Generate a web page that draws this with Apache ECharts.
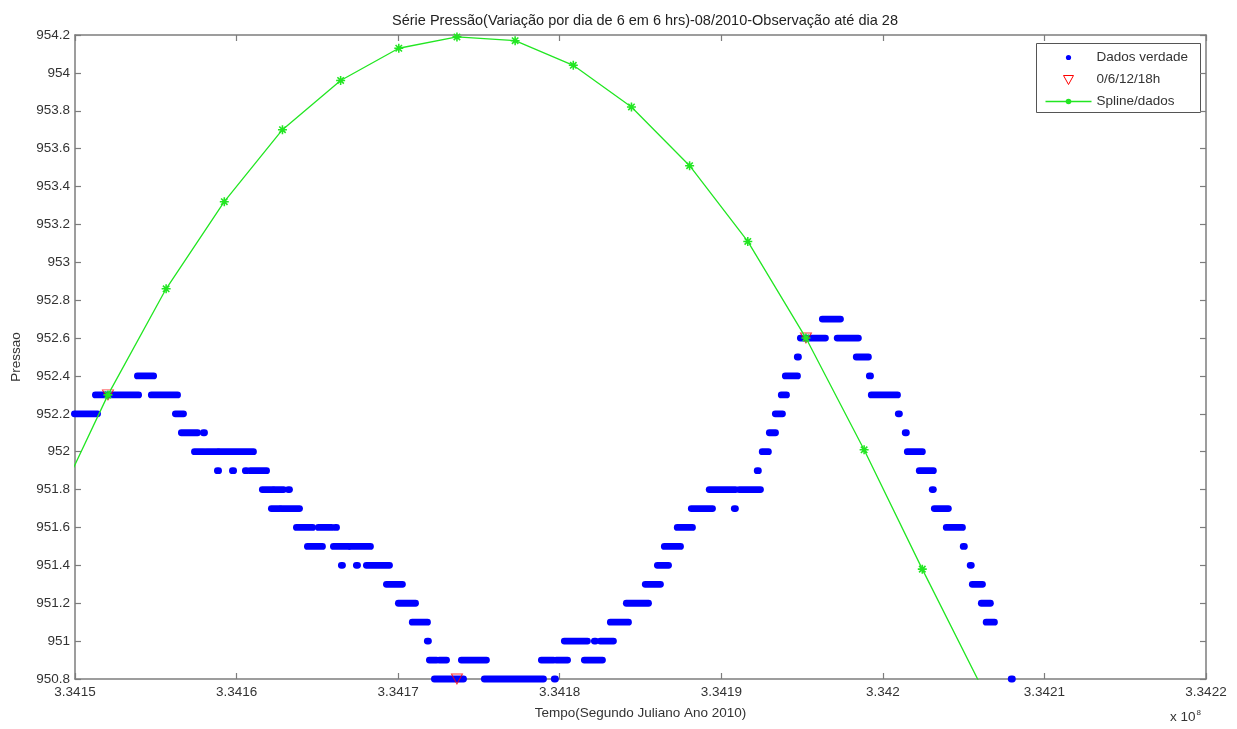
<!DOCTYPE html>
<html>
<head>
<meta charset="utf-8">
<title>Série Pressão</title>
<script src="https://cdn.jsdelivr.net/npm/echarts@6/dist/echarts.min.js"></script>
<style>
  html, body { margin: 0; padding: 0; background: #fff; }
  #chart { width: 1237px; height: 729px; }
</style>
</head>
<body>
<div id="chart"></div>
<script>
// tempo em segundos julianos (eixo mostra x 10^8)
const xTicks = [334150000, 334160000, 334170000, 334180000, 334190000, 334200000, 334210000, 334220000];
const yTicks = [950.8, 951, 951.2, 951.4, 951.6, 951.8, 952, 952.2, 952.4, 952.6, 952.8, 953, 953.2, 953.4, 953.6, 953.8, 954, 954.2];

// Dados verdade: trechos [inicio, fim, pressao] (leituras de 0.1 em 0.1)
const dadosVerdade = [
  [334150000, 334151360, 952.2],
  [334151300, 334153900, 952.3],
  [334153900, 334154830, 952.4],
  [334154760, 334156310, 952.3],
  [334156250, 334156680, 952.2],
  [334156620, 334157550, 952.1],
  [334157980, 334157980, 952.1],
  [334157430, 334157920, 952.0],
  [334158170, 334158790, 952.0],
  [334158970, 334161010, 952.0],
  [334158850, 334158850, 951.9],
  [334159780, 334159780, 951.9],
  [334160580, 334160580, 951.9],
  [334160890, 334161820, 951.9],
  [334161630, 334162190, 951.8],
  [334162380, 334162870, 951.8],
  [334163240, 334163240, 951.8],
  [334162190, 334162620, 951.7],
  [334162810, 334163860, 951.7],
  [334163740, 334164670, 951.6],
  [334165100, 334165840, 951.6],
  [334166150, 334166150, 951.6],
  [334164420, 334165280, 951.5],
  [334166030, 334166890, 951.5],
  [334167080, 334168250, 951.5],
  [334166520, 334166520, 951.4],
  [334167450, 334167450, 951.4],
  [334168070, 334169430, 951.4],
  [334169310, 334170230, 951.3],
  [334170050, 334171040, 951.2],
  [334170910, 334171780, 951.1],
  [334171840, 334171840, 951.0],
  [334171970, 334172340, 950.9],
  [334172590, 334172960, 950.9],
  [334173950, 334175430, 950.9],
  [334172280, 334174010, 950.8],
  [334175370, 334178960, 950.8],
  [334179700, 334179700, 950.8],
  [334178900, 334179580, 950.9],
  [334179830, 334180450, 950.9],
  [334181560, 334182610, 950.9],
  [334180320, 334181680, 951.0],
  [334182180, 334182180, 951.0],
  [334182550, 334183290, 951.0],
  [334183170, 334184220, 951.1],
  [334184160, 334185460, 951.2],
  [334185330, 334186200, 951.3],
  [334186080, 334186700, 951.4],
  [334186510, 334187440, 951.5],
  [334187310, 334188180, 951.6],
  [334188180, 334189420, 951.7],
  [334190840, 334190840, 951.7],
  [334189290, 334190840, 951.8],
  [334191150, 334192390, 951.8],
  [334192260, 334192260, 951.9],
  [334192570, 334192880, 952.0],
  [334193010, 334193320, 952.1],
  [334193380, 334193750, 952.2],
  [334193750, 334194000, 952.3],
  [334194000, 334194680, 952.4],
  [334194740, 334194740, 952.5],
  [334194930, 334196410, 952.6],
  [334196290, 334197340, 952.7],
  [334197210, 334198450, 952.6],
  [334198390, 334199070, 952.5],
  [334199200, 334199200, 952.4],
  [334199320, 334200870, 952.3],
  [334200990, 334200990, 952.2],
  [334201420, 334201420, 952.1],
  [334201550, 334202410, 952.0],
  [334202290, 334203090, 951.9],
  [334203090, 334203090, 951.8],
  [334203220, 334204020, 951.7],
  [334203960, 334204890, 951.6],
  [334205010, 334205010, 951.5],
  [334205440, 334205440, 951.4],
  [334205570, 334206130, 951.3],
  [334206130, 334206620, 951.2],
  [334206430, 334206870, 951.1],
  [334207980, 334207980, 950.8]
];

// observacoes 0/6/12/18h
const horasTempo = [334152040, 334173640, 334195240];
const horasPressao = [952.3, 950.8, 952.6];

// spline (um ponto por hora)
const splineTempo = [334148440, 334152040, 334155640, 334159240, 334162840, 334166440, 334170040, 334173640,
  334177240, 334180840, 334184440, 334188040, 334191640, 334195240, 334198840, 334202440, 334206040];
const splinePressao = [951.65, 952.30, 952.86, 953.32, 953.70, 953.96, 954.13, 954.19,
  954.17, 954.04, 953.82, 953.51, 953.11, 952.60, 952.01, 951.38, 950.77];

const FONT = '"Liberation Sans", Arial, sans-serif';
const AXIS_GRAY = '#7d7d7d';
const TXT = '#333';
const VERDE = '#22e622';
const ASTER = 'path://M-1.4,-8L1.4,-8L1.4,8L-1.4,8Z M-8,-1.4L8,-1.4L8,1.4L-8,1.4Z M-6.7,-4.7L-4.7,-6.7L6.7,4.7L4.7,6.7Z M4.7,-6.7L6.7,-4.7L-4.7,6.7L-6.7,4.7Z';

const fmtX = function (v) { return String(parseFloat((v / 1e8).toFixed(4))); };
const fmtY = function (v) { return String(parseFloat(v.toFixed(1))); };

const chart = echarts.init(document.getElementById('chart'));

const eixoX = function (pos, labels) {
  return {
    type: 'value',
    position: pos,
    min: xTicks[0],
    max: xTicks[xTicks.length - 1],
    interval: 10000,
    axisLine: { show: true, onZero: false, lineStyle: { color: AXIS_GRAY, width: 1.5 } },
    axisTick: { show: true, inside: true, length: 6, lineStyle: { color: AXIS_GRAY, width: 1.2 } },
    axisLabel: { show: labels, margin: 6, color: TXT, fontFamily: FONT, fontSize: 13.5, formatter: fmtX, showMinLabel: true, showMaxLabel: true },
    splitLine: { show: false }
  };
};
const eixoY = function (pos, labels) {
  return {
    type: 'value',
    position: pos,
    min: yTicks[0],
    max: yTicks[yTicks.length - 1],
    interval: 0.2,
    axisLine: { show: true, onZero: false, lineStyle: { color: AXIS_GRAY, width: 1.5 } },
    axisTick: { show: true, inside: true, length: 6, lineStyle: { color: AXIS_GRAY, width: 1.2 } },
    axisLabel: { show: labels, margin: 5, color: TXT, fontFamily: FONT, fontSize: 13.5, formatter: fmtY, showMinLabel: true, showMaxLabel: true },
    splitLine: { show: false }
  };
};

const xBottom = eixoX('bottom', true);
xBottom.name = 'Tempo(Segundo Juliano Ano 2010)';
xBottom.nameLocation = 'middle';
xBottom.nameGap = 27;
xBottom.nameTextStyle = { color: TXT, fontFamily: FONT, fontSize: 13.5 };
const yLeft = eixoY('left', true);
yLeft.name = 'Pressao';
yLeft.nameLocation = 'middle';
yLeft.nameGap = 52;
yLeft.nameTextStyle = { color: TXT, fontFamily: FONT, fontSize: 13.5 };

const option = {
  backgroundColor: '#fff',
  animation: false,
  title: {
    text: 'Série Pressão(Variação por dia de 6 em 6 hrs)-08/2010-Observação até dia 28',
    left: 640,
    textAlign: 'center',
    top: 8,
    textStyle: { color: '#222', fontFamily: FONT, fontSize: 14.5, fontWeight: 'normal' }
  },
  grid: { left: 75, right: 31, top: 35, bottom: 50, containLabel: false },
  xAxis: [xBottom, eixoX('top', false)],
  yAxis: [yLeft, eixoY('right', false)],
  series: [
    {
      name: 'Dados verdade',
      type: 'custom',
      clip: false,
      data: dadosVerdade,
      encode: { x: [0, 1], y: 2 },
      renderItem: function (params, api) {
        const a = api.coord([api.value(0), api.value(2)]);
        const b = api.coord([api.value(1), api.value(2)]);
        return {
          type: 'rect',
          shape: { x: a[0] - 4, y: a[1] - 3.4, width: b[0] - a[0] + 8, height: 6.8, r: 3.4 },
          style: { fill: '#0000ff' }
        };
      }
    },
    {
      name: '0/6/12/18h',
      type: 'scatter',
      data: horasTempo.map(function (t, i) { return [t, horasPressao[i]]; }),
      symbol: 'triangle',
      symbolRotate: 180,
      symbolSize: [11, 10],
      itemStyle: { color: 'rgba(0,0,0,0)', borderColor: '#ff0000', borderWidth: 1 },
      clip: false
    },
    {
      name: 'Spline/dados',
      type: 'line',
      data: splineTempo.map(function (t, i) { return [t, splinePressao[i]]; }),
      clip: true,
      symbol: ASTER,
      symbolSize: 9,
      showSymbol: true,
      showAllSymbol: true,
      lineStyle: { color: VERDE, width: 1.3 },
      itemStyle: { color: VERDE }
    }
  ],
  graphic: [
    {
      type: 'text',
      left: 1170,
      top: 709,
      style: {
        text: 'x 10{s|8}',
        fill: TXT,
        font: '13.5px ' + FONT,
        rich: { s: { fontSize: 8, fontFamily: FONT, fill: TXT, verticalAlign: 'top', padding: [0, 0, 8, 1] } }
      }
    },
    {
      type: 'group',
      left: 1036,
      top: 43,
      children: [
        { type: 'rect', shape: { x: 0, y: 0, width: 164, height: 69 }, style: { fill: '#fff', stroke: '#555', lineWidth: 1 } },
        { type: 'circle', shape: { cx: 32, cy: 14, r: 2.6 }, style: { fill: '#0000ff' } },
        { type: 'text', x: 60, y: 14, style: { text: 'Dados verdade', fill: TXT, font: '13.5px ' + FONT, verticalAlign: 'middle' } },
        { type: 'polygon', shape: { points: [[27, 32], [37, 32], [32, 41]] }, style: { fill: 'none', stroke: '#ff0000', lineWidth: 1 } },
        { type: 'text', x: 60, y: 36, style: { text: '0/6/12/18h', fill: TXT, font: '13.5px ' + FONT, verticalAlign: 'middle' } },
        { type: 'line', shape: { x1: 9, y1: 58, x2: 55, y2: 58 }, style: { stroke: VERDE, lineWidth: 1.3 } },
        { type: 'circle', shape: { cx: 32, cy: 58, r: 2.8 }, style: { fill: VERDE } },
        { type: 'text', x: 60, y: 58, style: { text: 'Spline/dados', fill: TXT, font: '13.5px ' + FONT, verticalAlign: 'middle' } }
      ]
    }
  ]
};

chart.setOption(option);
</script>
</body>
</html>
